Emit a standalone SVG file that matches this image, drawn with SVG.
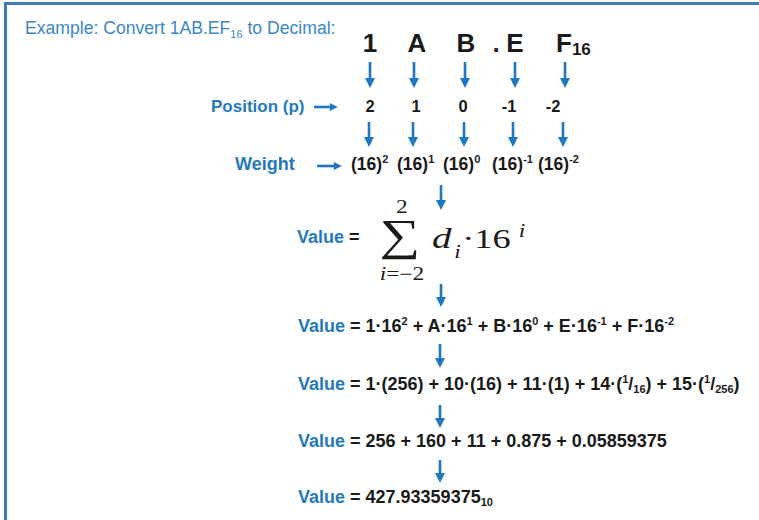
<svg xmlns="http://www.w3.org/2000/svg" width="759" height="520" viewBox="0 0 759 520">
<style>
.title{font-family:"Liberation Sans",Arial,sans-serif;font-size:17.6px;fill:#3a87c7}
.lbl{font-family:"Liberation Sans",Arial,sans-serif;font-weight:bold;fill:#2479bd}
.txt{font-family:"Liberation Sans",Arial,sans-serif;font-weight:bold;fill:#1a1a1a}
.big{font-size:26px;text-anchor:middle}
.math{font-family:"Liberation Serif","DejaVu Serif",serif;fill:#1a1a1a}
.arr{stroke:#1f77bf;stroke-width:2.6;fill:none}
</style>
<defs>
<marker id="ah" viewBox="0 0 10 10" refX="4" refY="5" markerWidth="10" markerHeight="10" markerUnits="userSpaceOnUse" orient="auto">
<path d="M0,0 L10,5 L0,10 z" fill="#1f77bf"/>
</marker>
<marker id="ahs" viewBox="0 0 10 10" refX="4" refY="5" markerWidth="9" markerHeight="8" markerUnits="userSpaceOnUse" orient="auto">
<path d="M0,0 L10,5 L0,10 z" fill="#1f77bf"/>
</marker>
</defs>
<rect width="759" height="520" fill="#ffffff"/>
<g id="frame">
<line x1="5.5" y1="3" x2="5.5" y2="520" stroke="#3d7bbd" stroke-width="3"/>
<line x1="4" y1="3.5" x2="759" y2="3.5" stroke="#3d7bbd" stroke-width="3"/>
</g>
<g id="title"><text class="title" x="25" y="34">Example: Convert 1AB.EF<tspan font-size="11" dy="4">16</tspan><tspan dy="-4"> to Decimal:</tspan></text></g>
<g id="digits">
<text class="txt big" x="370" y="52">1</text>
<text class="txt big" x="417" y="52">A</text>
<text class="txt big" x="466" y="52">B</text>
<text class="txt big" x="496" y="52">.</text>
<text class="txt big" x="515" y="52">E</text>
<text class="txt" x="556" y="52" font-size="26">F<tspan font-size="17" dy="3">16</tspan></text>
</g>
<g id="position">
<text class="lbl" x="211" y="112" font-size="17">Position (p)</text>
<g class="txt" font-size="16.5" text-anchor="middle">
<text x="370" y="112">2</text>
<text x="416" y="112">1</text>
<text x="463" y="112">0</text>
<text x="509" y="112">-1</text>
<text x="553" y="112">-2</text>
</g>
</g>
<g id="weight">
<text class="lbl" x="235" y="170" font-size="18">Weight</text>
<g class="txt" font-size="17.5">
<text x="351" y="170">(16)<tspan font-size="11" dy="-7">2</tspan></text>
<text x="397" y="170">(16)<tspan font-size="11" dy="-7">1</tspan></text>
<text x="443" y="170">(16)<tspan font-size="11" dy="-7">0</tspan></text>
<text x="492" y="170">(16)<tspan font-size="11" dy="-7">-1</tspan></text>
<text x="538" y="170">(16)<tspan font-size="11" dy="-7">-2</tspan></text>
</g>
</g>
<g id="sum">
<text class="lbl" x="297" y="243" font-size="18">Value<tspan fill="#1a1a1a"> =</tspan></text>
<g transform="matrix(1.3,0,0,1,0,0)">
<text class="math" x="307.7" y="250" font-size="44" text-anchor="middle">∑</text>
<text class="math" x="309.2" y="213" font-size="18" text-anchor="middle">2</text>
<text class="math" x="309.2" y="280" font-size="18" text-anchor="middle"><tspan font-style="italic">i</tspan>=−2</text>
<text class="math" x="332.3" y="248" font-size="30" font-style="italic">d</text>
<text class="math" x="349.5" y="258" font-size="18" font-style="italic">i</text>
<text class="math" x="355.5" y="248" font-size="28">·16</text>
<text class="math" x="399" y="237" font-size="18" font-style="italic">i</text>
</g>
</g>
<g id="line1">
<text class="txt" x="298" y="332" font-size="18"><tspan fill="#2479bd">Value</tspan> = 1·16<tspan font-size="11" dy="-7">2</tspan><tspan dy="7"> + A·16</tspan><tspan font-size="11" dy="-7">1</tspan><tspan dy="7"> + B·16</tspan><tspan font-size="11" dy="-7">0</tspan><tspan dy="7"> + E·16</tspan><tspan font-size="11" dy="-7">-1</tspan><tspan dy="7"> + F·16</tspan><tspan font-size="11" dy="-7">-2</tspan></text>
</g>
<g id="line2">
<text class="txt" x="298" y="390" font-size="18"><tspan fill="#2479bd">Value</tspan> = 1·(256) + 10·(16) + 11·(1) + 14·(<tspan font-size="11" dy="-7">1</tspan><tspan dy="7">/</tspan><tspan font-size="11" dy="3">16</tspan><tspan dy="-3">) + 15·(</tspan><tspan font-size="11" dy="-7">1</tspan><tspan dy="7">/</tspan><tspan font-size="11" dy="3">256</tspan><tspan dy="-3">)</tspan></text>
</g>
<g id="line3">
<text class="txt" x="298" y="447" font-size="18"><tspan fill="#2479bd">Value</tspan> = 256 + 160 + 11 + 0.875 + 0.05859375</text>
</g>
<g id="line4">
<text class="txt" x="298" y="503" font-size="18"><tspan fill="#2479bd">Value</tspan> = 427.93359375<tspan font-size="11" dy="3">10</tspan></text>
</g>
<g id="connectors" class="arr">
<line x1="370" y1="62" x2="370" y2="82" marker-end="url(#ah)"/>
<line x1="414" y1="62" x2="414" y2="82" marker-end="url(#ah)"/>
<line x1="465" y1="62" x2="465" y2="82" marker-end="url(#ah)"/>
<line x1="515" y1="62" x2="515" y2="82" marker-end="url(#ah)"/>
<line x1="565" y1="62" x2="565" y2="82" marker-end="url(#ah)"/>
<line x1="369" y1="122" x2="369" y2="141" marker-end="url(#ah)"/>
<line x1="413" y1="122" x2="413" y2="141" marker-end="url(#ah)"/>
<line x1="464" y1="122" x2="464" y2="141" marker-end="url(#ah)"/>
<line x1="513" y1="122" x2="513" y2="141" marker-end="url(#ah)"/>
<line x1="563" y1="122" x2="563" y2="141" marker-end="url(#ah)"/>
<line x1="314" y1="107" x2="333" y2="107" marker-end="url(#ahs)"/>
<line x1="317" y1="166" x2="337" y2="166" marker-end="url(#ahs)"/>
<line x1="441" y1="185" x2="441" y2="204" marker-end="url(#ah)"/>
<line x1="441" y1="284" x2="441" y2="301" marker-end="url(#ah)"/>
<line x1="440" y1="344" x2="440" y2="362" marker-end="url(#ah)"/>
<line x1="440" y1="405" x2="440" y2="422" marker-end="url(#ah)"/>
<line x1="440" y1="460" x2="440" y2="477" marker-end="url(#ah)"/>
</g>
</svg>
